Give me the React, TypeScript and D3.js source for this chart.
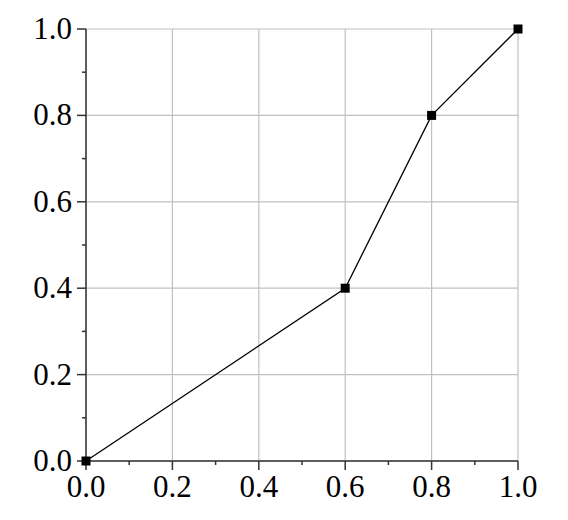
import React from "react";
import * as d3 from "d3";

const xValues = [0, 0.6, 0.8, 1.0];
const yValues = [0, 0.4, 0.8, 1.0];
const majorTicks = [0, 0.2, 0.4, 0.6, 0.8, 1.0];
const minorTicks = [0.1, 0.3, 0.5, 0.7, 0.9];

export default function App() {
  const W = 568, H = 520;
  const left = 86, right = 518, top = 29, bottom = 461;
  const x = d3.scaleLinear().domain([0, 1]).range([left, right]);
  const y = d3.scaleLinear().domain([0, 1]).range([bottom, top]);
  const pts = xValues.map((v, i) => [v, yValues[i]] as [number, number]);
  const line = d3.line<[number, number]>().x(d => x(d[0])).y(d => y(d[1]));
  const font = "Liberation Serif";
  const fs = 31;
  return (
    <svg width={W} height={H} style={{ position: "absolute", left: 0, top: 0 }}>
      <rect x={0} y={0} width={W} height={H} fill="#fff" />
      {majorTicks.map(t => (
        <g key={"g" + t}>
          <line x1={x(t)} x2={x(t)} y1={top} y2={bottom} stroke="#c0c0c0" strokeWidth={1.2} />
          <line x1={left} x2={right} y1={y(t)} y2={y(t)} stroke="#c0c0c0" strokeWidth={1.2} />
        </g>
      ))}
      <line x1={left} x2={left} y1={top} y2={bottom} stroke="#333" strokeWidth={1.5} />
      <line x1={left} x2={right} y1={bottom} y2={bottom} stroke="#333" strokeWidth={1.5} />
      {majorTicks.map(t => (
        <g key={"t" + t}>
          <line x1={left - 9} x2={left} y1={y(t)} y2={y(t)} stroke="#333" strokeWidth={1.5} />
          <line x1={x(t)} x2={x(t)} y1={bottom} y2={bottom + 9} stroke="#333" strokeWidth={1.5} />
          <text x={left - 14} y={y(t) + 10} textAnchor="end" fontFamily={font} fontSize={fs} fill="#000">
            {t.toFixed(1)}
          </text>
          <text x={x(t)} y={bottom + 36} textAnchor="middle" fontFamily={font} fontSize={fs} fill="#000">
            {t.toFixed(1)}
          </text>
        </g>
      ))}
      {minorTicks.map(t => (
        <g key={"m" + t}>
          <line x1={left - 4} x2={left} y1={y(t)} y2={y(t)} stroke="#333" strokeWidth={1.5} />
          <line x1={x(t)} x2={x(t)} y1={bottom} y2={bottom + 4} stroke="#333" strokeWidth={1.5} />
        </g>
      ))}
      <path d={line(pts) || ""} fill="none" stroke="#000" strokeWidth={1.3} />
      {pts.map((p, i) => (
        <rect key={i} x={x(p[0]) - 4.5} y={y(p[1]) - 4.5} width={9} height={9} fill="#000" />
      ))}
    </svg>
  );
}
